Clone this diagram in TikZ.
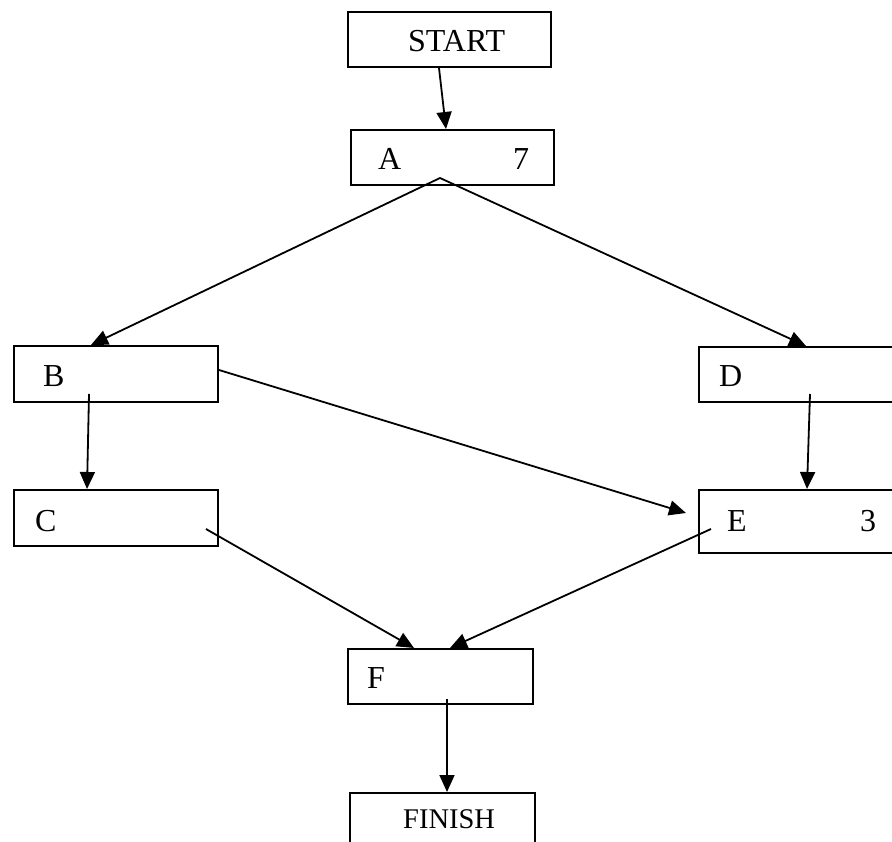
\documentclass[tikz,border=0pt]{standalone}
\usepackage{fontspec}
\setmainfont{Liberation Serif}
\usetikzlibrary{arrows.meta}
\begin{document}
\begin{tikzpicture}[x=1pt,y=-1pt,
  box/.style={draw,line width=2pt,inner sep=0pt,anchor=north west},
  lbl/.style={anchor=base west,inner sep=0pt,font=\fontsize{32}{38}\selectfont},
  lblsmall/.style={anchor=base west,inner sep=0pt,font=\fontsize{28.5}{34}\selectfont},
  arr/.style={line width=1.8pt,-{Triangle[length=17pt,width=15pt]}}]
\clip (0,0) rectangle (892,842);
\fill[white] (0,0) rectangle (892,842);

% activity boxes
\node[box,minimum width=203pt,minimum height=55pt] (startbox) at (347,11) {};
\node[box,minimum width=203pt,minimum height=55pt] (abox) at (350,129) {};
\node[box,minimum width=204pt,minimum height=56pt] (bbox) at (13,345) {};
\node[box,minimum width=204pt,minimum height=56pt] (cbox) at (13,489) {};
\node[box,minimum width=212pt,minimum height=55pt] (dbox) at (698,346) {};
\node[box,minimum width=212pt,minimum height=63pt] (ebox) at (698,489) {};
\node[box,minimum width=185pt,minimum height=55pt] (fbox) at (347,648) {};
\node[box,minimum width=185pt,minimum height=80pt] (finbox) at (349,792) {};

% labels and durations
\node[lbl] (tstart) at (408,52) {START};
\node[lbl] (ta) at (378,170) {A};
\node[lbl] (ta7) at (513,170) {7};
\node[lbl] (tb) at (43,387) {B};
\node[lbl] (tc) at (35,531) {C};
\node[lbl] (td) at (719,387) {D};
\node[lbl] (te) at (727,531) {E};
\node[lbl] (te3) at (860,531) {3};
\node[lbl] (tf) at (367,688) {F};
\node[lblsmall] (tfin) at (403,828) {FINISH};

% precedence arrows
\draw[arr] ([xshift=-10.5pt]startbox.south) -- ([xshift=-6.5pt]abox.north);
\draw[arr] ([shift={(-12.5pt,-20.5pt)}]abox.center) -- ([xshift=-25pt]bbox.north);
\draw[arr] ([shift={(-12.5pt,-20.5pt)}]abox.center) -- ([xshift=1pt]dbox.north);
\draw[arr] ([shift={(-27pt,-20pt)}]bbox.center) -- ([xshift=-29pt]cbox.north);
\draw[arr] ([shift={(5pt,-19.5pt)}]dbox.center) -- ([xshift=2pt]ebox.north);
\draw[arr] ([yshift=4pt]bbox.east) -- ([shift={(-12pt,8.5pt)}]ebox.west);
\draw[arr] ([shift={(90pt,-11pt)}]cbox.center) -- ([xshift=-26.5pt]fbox.north);
\draw[arr] ([shift={(-94pt,-7.5pt)}]ebox.center) -- ([xshift=9.5pt]fbox.north);
\draw[arr] ([shift={(6.5pt,6pt)}]fbox.south) -- ([xshift=4.5pt]finbox.north);
\end{tikzpicture}
\end{document}
